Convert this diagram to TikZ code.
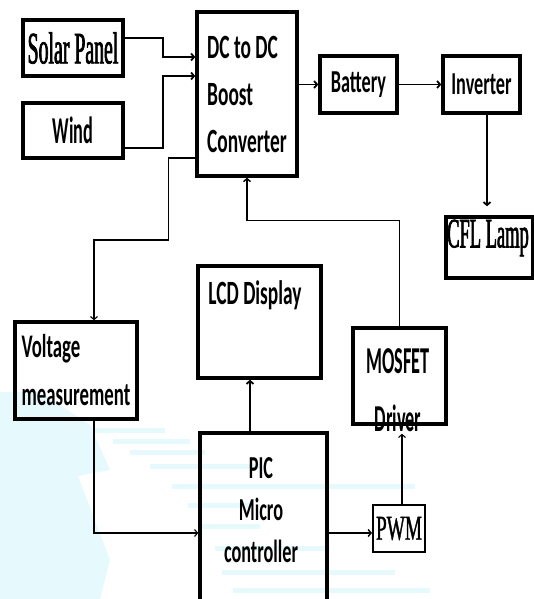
\documentclass[tikz,border=0pt]{standalone}
\usepackage{fontspec}
\usepackage{tikz}
\usetikzlibrary{arrows.meta, positioning, calc}
\newfontfamily\narrowsans[FakeStretch=0.57]{Carlito}
\newfontfamily\narrowersans[FakeStretch=0.48]{Carlito}
\newfontfamily\narrowserif[FakeStretch=0.44, FakeBold=1.5]{Liberation Serif}
\newfontfamily\plainserif[FakeStretch=0.55, FakeBold=1]{Liberation Serif}
\definecolor{wmark}{RGB}{230, 249, 253}

\begin{document}
\begin{tikzpicture}[x=1pt, y=-1pt,
    block/.style={draw, line width=3.5pt, inner sep=0pt, align=center},
    caption/.style={inner sep=0pt, align=center},
    flow/.style={line width=1.8pt, -{Straight Barb[length=3pt, width=7pt]}},
    thinflow/.style={line width=1.1pt, -{Straight Barb[length=3pt, width=7pt]}}
]
    \useasboundingbox (0,0) rectangle (534,599);
    \clip (0,0) rectangle (534,599);
    \fill[white] (0,0) rectangle (534,599);

    % faint watermark behind the lower half
    \fill[wmark] (0,392) -- (40,392) -- (90,425) -- (110,470) -- (78,476) -- (110,560) -- (100,599) -- (0,599) -- cycle;
    \foreach \y/\a/\b in {430/95/165, 441/113/190, 452/130/205, 466/150/262, 486/172/415,
                          505/188/250, 526/200/260, 548/215/330, 572/222/395, 590/233/430}
        \fill[wmark] (\a,\y-2.5) rectangle (\b,\y+2.5);

    % sources and converter
    \node (solar) [block, minimum width=100, minimum height=56, font=\narrowserif\fontsize{45}{45}\selectfont] at (73,48) {Solar Panel};
    \node (wind) [block, minimum width=100, minimum height=55, font=\narrowersans\bfseries\fontsize{38}{38}\selectfont] at (73,130.5) {Wind};
    \node (dc) [block, minimum width=100, minimum height=164, align=left, font=\narrowsans\bfseries\fontsize{34}{47}\selectfont] at (247,94) {DC to DC\\Boost\\Converter};
    \node (battery) [block, minimum width=77, minimum height=57, font=\narrowsans\bfseries\fontsize{32}{32}\selectfont] at (358.5,84.5) {Battery};
    \node (inverter) [block, minimum width=77, minimum height=57, font=\narrowsans\bfseries\fontsize{32}{32}\selectfont] at (481.5,84.5) {Inverter};
    \node (cfltext) [caption, font=\narrowserif\fontsize{42}{42}\selectfont] at (488,238) {CFL Lamp};
    \node (cfl) [block, minimum width=87, minimum height=61] at (489.5,247.5) {};

    % control side
    \node (volt) [block, minimum width=122, minimum height=97, align=left, font=\narrowsans\bfseries\fontsize{33}{48}\selectfont] at (76,370.5) {Voltage\\measurement};
    \node (lcdtext) [caption, font=\narrowsans\bfseries\fontsize{34}{34}\selectfont] at (255,295) {LCD Display};
    \node (lcd) [block, minimum width=123, minimum height=112] at (259.5,322) {};
    \node (mostext) [caption, font=\narrowersans\bfseries\fontsize{38}{58}\selectfont] at (398,390) {MOSFET\\Driver};
    \node (mosfet) [block, minimum width=93, minimum height=96] at (399.5,376) {};
    \node (pictext) [caption, font=\narrowsans\bfseries\fontsize{32}{42}\selectfont] at (261,510) {PIC\\Micro\\controller};
    \node (pic) [block, minimum width=127, minimum height=177] at (263.5,521.5) {};
    \node (pwm) [block, line width=2pt, minimum width=52, minimum height=47, font=\plainserif\fontsize{35}{35}\selectfont] at (399,528.5) {PWM};

    \draw [flow] ([yshift=10pt]solar.east) -- ++(38,0) |- ([yshift=37pt]dc.west);
    \draw [flow] ([yshift=-17.5pt]wind.east) -- ++(38,0) |- ([yshift=18pt]dc.west);
    \draw [flow] (dc.east |- battery.west) -- (battery.west);
    \draw [flow] (battery) -- (inverter);
    \draw [flow, shorten >=9pt] ([xshift=5.5pt]inverter.south) -- ([xshift=5.5pt]inverter.south |- cfl.north);
    \draw [thinflow] ([yshift=-64pt]dc.west) -- ++(-27,0) -- ++(0,82) -| ([xshift=18pt]volt.north);
    \draw [flow, line width=1.4pt] (mosfet.north) -- ++(0,-106) -| (dc.south);
    \draw [thinflow] ([xshift=18pt]volt.south) |- ([yshift=-11.5pt]pic.west);
    \draw [flow] ([xshift=-13.5pt]pic.north) -- ([xshift=-13.5pt]pic.north |- lcd.south);
    \draw [thinflow, line width=1.4pt] ([yshift=-11.5pt]pic.east) -- ([yshift=-4.5pt]pwm.west);
    \draw [thinflow, shorten >=8pt] ([xshift=3pt]pwm.north) -- ([xshift=3pt]pwm.north |- mosfet.south);
\end{tikzpicture}
\end{document}
